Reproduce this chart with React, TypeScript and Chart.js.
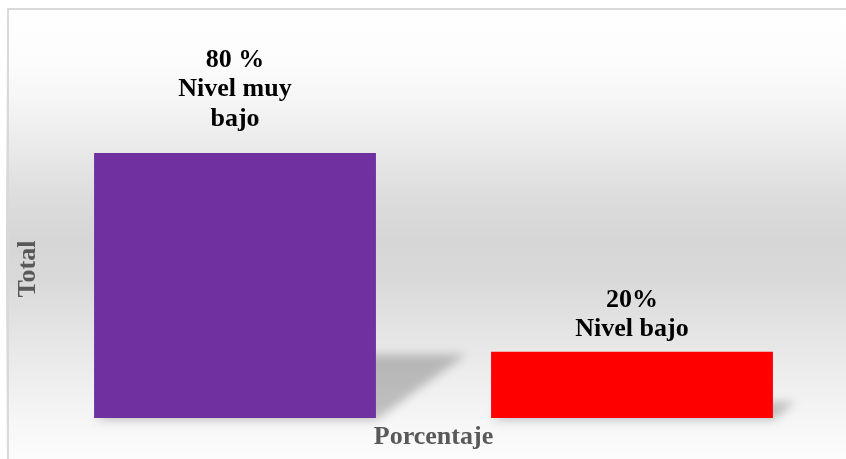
import { useEffect, useRef } from "react";
import { Chart, registerables } from "chart.js";

Chart.register(...registerables);

const categories = ["Nivel muy bajo", "Nivel bajo"];
const values = [80, 20];
const labelLines = [["80 %", "Nivel muy", "bajo"], ["20%", "Nivel bajo"]];
const barColors = ["#7030A0", "#FF0000"];
const yTitle = "Total";
const xTitle = "Porcentaje";
const yMax = 120;

const FONT = "'Liberation Serif', 'Times New Roman', serif";

const decor = {
  id: "decor",
  beforeDraw(chart: any) {
    const { ctx, width, height, chartArea } = chart;
    ctx.save();
    const g = ctx.createLinearGradient(0, 0, 0, height);
    const stops: [number, string][] = [
      [2, "#ffffff"],
      [54, "#fcfcfc"],
      [94, "#f6f6f6"],
      [144, "#e9e9e9"],
      [194, "#dcdcdc"],
      [234, "#d6d6d6"],
      [274, "#d9d9d9"],
      [324, "#e4e4e4"],
      [374, "#eeeeee"],
      [414, "#f6f6f6"],
      [453, "#fcfcfc"],
    ];
    stops.forEach(([y, c]) => g.addColorStop(Math.min(1, Math.max(0, y / height)), c));
    ctx.fillStyle = g;
    ctx.fillRect(0, 0, width, height);
    ctx.strokeStyle = "#d9d9d9";
    ctx.lineWidth = 2;
    ctx.beginPath();
    ctx.moveTo(2, height + 5);
    ctx.lineTo(2, 3);
    ctx.lineTo(width + 5, 3);
    ctx.stroke();

    ctx.fillStyle = "#595959";
    ctx.font = `bold 26px ${FONT}`;
    ctx.translate(chartArea.left - 8.3, chartArea.bottom - 149);
    ctx.rotate(-Math.PI / 2);
    ctx.textAlign = "center";
    ctx.textBaseline = "middle";
    ctx.fillText(yTitle, 0, 0);
    ctx.restore();
  },
  beforeDatasetsDraw(chart: any) {
    const { ctx } = chart;
    const meta = chart.getDatasetMeta(0);
    ctx.save();
    ctx.filter = "blur(5px)";
    ctx.fillStyle = "rgba(0,0,0,0.22)";
    meta.data.forEach((bar: any) => {
      const { x, y, base, width } = bar.getProps(["x", "y", "base", "width"], true);
      const h = base - y;
      const sh = h * 0.24;
      const dx = h * 0.34;
      const left = x - width / 2;
      const right = x + width / 2;
      ctx.beginPath();
      ctx.moveTo(left, base + 2);
      ctx.lineTo(right, base + 2);
      ctx.lineTo(right + dx, base - sh);
      ctx.lineTo(left + dx, base - sh);
      ctx.closePath();
      ctx.fill();
    });
    ctx.restore();
  },
  afterDatasetsDraw(chart: any) {
    const { ctx } = chart;
    const meta = chart.getDatasetMeta(0);
    const offsets = [27.5, 15.5];
    const lineH = 29.5;
    ctx.save();
    ctx.fillStyle = "#000000";
    ctx.font = `bold 26px ${FONT}`;
    ctx.textAlign = "center";
    ctx.textBaseline = "alphabetic";
    meta.data.forEach((bar: any, i: number) => {
      const { x, y } = bar.getProps(["x", "y"], true);
      const lines = labelLines[i];
      const lastY = y - offsets[i];
      lines.forEach((t, j) => {
        ctx.fillText(t, x, lastY - (lines.length - 1 - j) * lineH);
      });
    });
    ctx.restore();
  },
};

export default function App() {
  const ref = useRef<HTMLCanvasElement | null>(null);
  useEffect(() => {
    if (!ref.current) return;
    const chart = new Chart(ref.current, {
      type: "bar",
      data: {
        labels: categories,
        datasets: [
          {
            data: values,
            backgroundColor: barColors,
            borderWidth: 0,
            barPercentage: 0.71,
            categoryPercentage: 1,
          },
        ],
      },
      options: {
        responsive: false,
        animation: false,
        layout: { padding: { left: 30.5, right: 15.5, top: 14.5, bottom: 2.4 } },
        plugins: { legend: { display: false }, tooltip: { enabled: false } },
        scales: {
          x: {
            display: true,
            grid: { display: false, drawTicks: false },
            border: { display: false },
            ticks: { display: false },
            title: {
              display: true,
              text: xTitle,
              color: "#595959",
              font: { family: FONT, size: 26, weight: "bold" },
              padding: { top: 3.4, bottom: 4 },
            },
          },
          y: { display: false, min: 0, max: yMax },
        },
      },
      plugins: [decor],
    });
    return () => chart.destroy();
  }, []);
  return (
    <div style={{ position: "fixed", left: 6, top: 6, width: 840, height: 453, overflow: "hidden" }}>
      <canvas ref={ref} width={840} height={453} style={{ display: "block" }} />
    </div>
  );
}
